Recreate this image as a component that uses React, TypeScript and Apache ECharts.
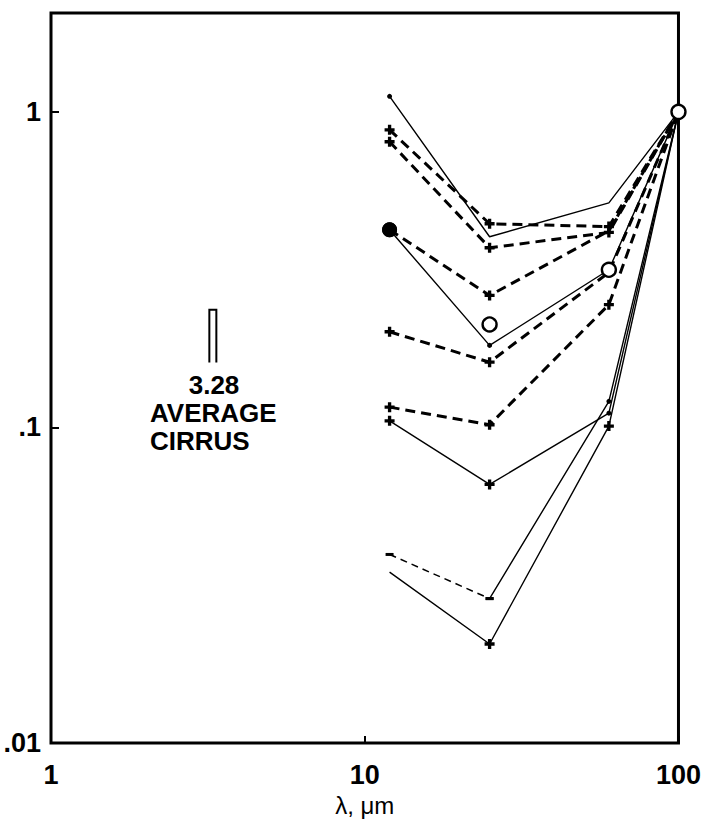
import React, { useEffect, useRef } from "react";
import * as echarts from "echarts";

// Wavelengths (IRAS bands), micrometres
const wavelengths = [12, 25, 60, 100];

// Normalised spectra (value at 100 um = 1)
const seriesTopSolid = [1.12, 0.402, 0.515, 1.0];
const seriesDashedA = [0.877, 0.442, 0.433, 1.0];
const seriesDashedB = [0.804, 0.371, 0.415, 1.0];
const seriesFilledDashed = [0.423, 0.262, 0.42, 1.0];
const seriesFilledSolid = [0.423, 0.182, 0.316, 1.0];
const seriesDashedC = [0.201, 0.161, 0.31, 1.0];
const seriesDashedD = [0.116, 0.102, 0.245, 1.0];
const seriesMidSolid = [0.105, 0.066, 0.111, 1.0];
const seriesThinDashed = [0.0396, 0.0287, 0.121, 1.0];
const seriesThinSolid = [0.0348, 0.0206, 0.101, 1.0];

// Open circles
const openCircleX = [25, 60, 100];
const openCircleY = [0.212, 0.316, 1.0];

// Average cirrus bar
const cirrusLambda = 3.28;
const cirrusLow = 0.1606;
const cirrusHigh = 0.236;

const xTickLabels: Record<string, string> = { "0": "1", "1": "10", "2": "100" };
const yTickLabels: Record<string, string> = { "-2": ".01", "-1": ".1", "0": "1" };

const INK = "#000";
const FONT = "Liberation Sans";
const PLUS = "path://M3,0H6V3H9V6H6V9H3V6H0V3H3Z";

type Mk = string | null;

function build(values: number[], markers: Mk[], sizes: (number | number[])[], from = 0, to = values.length) {
  const out: any[] = [];
  for (let i = from; i < to; i++) {
    const item: any = { value: [wavelengths[i], values[i]] };
    if (markers[i]) {
      item.symbol = markers[i];
      item.symbolSize = sizes[i];
    } else {
      item.symbol = "none";
    }
    out.push(item);
  }
  return out;
}

function lineSeries(name: string, data: any[], type: "solid" | "bold" | "thin", z = 2) {
  const lineStyle: any = { color: INK };
  if (type === "solid") {
    lineStyle.width = 1.4;
    lineStyle.type = "solid";
  } else if (type === "bold") {
    lineStyle.width = 3;
    lineStyle.type = [10, 6];
  } else {
    lineStyle.width = 1.5;
    lineStyle.type = [7, 5];
  }
  return {
    name,
    type: "line",
    data,
    lineStyle,
    itemStyle: { color: INK },
    z,
    silent: true,
  };
}

export default function App() {
  const ref = useRef<HTMLDivElement>(null);

  useEffect(() => {
    if (!ref.current) return;
    const chart = echarts.init(ref.current, null, { renderer: "svg" });

    const thinMarkers: Mk[] = ["rect", "rect", "circle", null];
    const thinSizes: (number | number[])[] = [[8, 3], [8, 3], 5, 0];

    const series: any[] = [
      lineSeries("top", build(seriesTopSolid, ["circle", null, null, null], [5, 0, 0, 0]), "solid"),
      lineSeries("dashA", build(seriesDashedA, [PLUS, PLUS, PLUS, null], [10, 10, 10, 0]), "bold"),
      lineSeries("dashB", build(seriesDashedB, [PLUS, PLUS, PLUS, null], [10, 10, 10, 0]), "bold"),
      lineSeries("filledDash", build(seriesFilledDashed, ["circle", PLUS, null, null], [15, 10, 0, 0]), "bold"),
      lineSeries("filledSolid", build(seriesFilledSolid, ["circle", "circle", null, null], [15, 5, 0, 0]), "solid"),
      lineSeries("dashC", build(seriesDashedC, [PLUS, PLUS, null, null], [10, 10, 0, 0]), "bold"),
      lineSeries("dashD", build(seriesDashedD, [PLUS, PLUS, PLUS, null], [10, 10, 10, 0]), "bold"),
      lineSeries("midSolid", build(seriesMidSolid, [PLUS, PLUS, "circle", null], [10, 10, 5, 0]), "solid"),
      lineSeries("thinDash", build(seriesThinDashed, thinMarkers, thinSizes, 0, 2), "thin"),
      lineSeries("thinDashTail", build(seriesThinDashed, thinMarkers, thinSizes, 1, 4), "solid"),
      lineSeries("thinSolid", build(seriesThinSolid, [null, PLUS, PLUS, null], [0, 10, 10, 0]), "solid"),
      {
        name: "open",
        type: "scatter",
        data: openCircleX.map((x, i) => [x, openCircleY[i]]),
        symbol: "circle",
        symbolSize: 14,
        itemStyle: { color: "#fff", borderColor: "#000", borderWidth: 2.4, opacity: 1 },
        z: 5,
        silent: true,
      },
      {
        name: "cirrus",
        type: "custom",
        data: [[cirrusLambda, cirrusLow, cirrusHigh]],
        encode: { x: 0, y: [1, 2] },
        silent: true,
        renderItem: (params: any, api: any) => {
          const lo = api.coord([api.value(0), api.value(1)]);
          const hi = api.coord([api.value(0), api.value(2)]);
          const hw = 3.5;
          return {
            type: "polyline",
            shape: {
              points: [
                [lo[0] - hw, lo[1]],
                [hi[0] - hw, hi[1]],
                [hi[0] + hw, hi[1]],
                [lo[0] + hw, lo[1]],
              ],
            },
            style: { stroke: INK, lineWidth: 2, fill: "none" },
          };
        },
      },
    ];

    chart.setOption({
      animation: false,
      backgroundColor: "#fff",
      grid: {
        left: 51,
        right: 23,
        top: 13,
        bottom: 78,
        show: true,
        borderColor: INK,
        borderWidth: 3,
      },
      xAxis: {
        type: "log",
        logBase: 10,
        min: 1,
        max: 100,
        axisLine: { show: false },
        axisTick: { show: true, inside: true, length: 7, lineStyle: { color: INK, width: 2 } },
        splitLine: { show: false },
        axisLabel: {
          margin: 18,
          fontSize: 27,
          fontWeight: "bold",
          fontFamily: FONT,
          color: INK,
          formatter: (v: number) => xTickLabels[String(Math.round(Math.log10(v) * 1000) / 1000)] ?? "",
        },
        name: "λ, μm",
        nameLocation: "middle",
        nameGap: 49,
        nameTextStyle: { fontSize: 24, fontFamily: FONT, color: INK },
      },
      yAxis: {
        type: "log",
        logBase: 10,
        min: 0.01,
        max: 2.057,
        axisLine: { show: false },
        axisTick: { show: true, inside: true, length: 8, lineStyle: { color: INK, width: 2 } },
        splitLine: { show: false },
        axisLabel: {
          margin: 10,
          fontSize: 27,
          fontWeight: "bold",
          fontFamily: FONT,
          color: INK,
          formatter: (v: number) => yTickLabels[String(Math.round(Math.log10(v) * 1000) / 1000)] ?? "",
        },
      },
      graphic: [
        {
          type: "text",
          x: 214,
          y: 385,
          style: {
            text: "3.28",
            fontSize: 26,
            fontWeight: "bold",
            fontFamily: FONT,
            fill: INK,
            align: "center",
            verticalAlign: "middle",
          },
        },
        {
          type: "text",
          x: 150,
          y: 413,
          style: {
            text: "AVERAGE",
            fontSize: 26,
            fontWeight: "bold",
            fontFamily: FONT,
            fill: INK,
            align: "left",
            verticalAlign: "middle",
          },
        },
        {
          type: "text",
          x: 150,
          y: 441,
          style: {
            text: "CIRRUS",
            fontSize: 26,
            fontWeight: "bold",
            fontFamily: FONT,
            fill: INK,
            align: "left",
            verticalAlign: "middle",
          },
        },
      ],
      series,
    });

    return () => chart.dispose();
  }, []);

  return (
    <div
      ref={ref}
      style={{ position: "fixed", left: 0, top: 0, width: 704, height: 822, background: "#fff" }}
    />
  );
}
